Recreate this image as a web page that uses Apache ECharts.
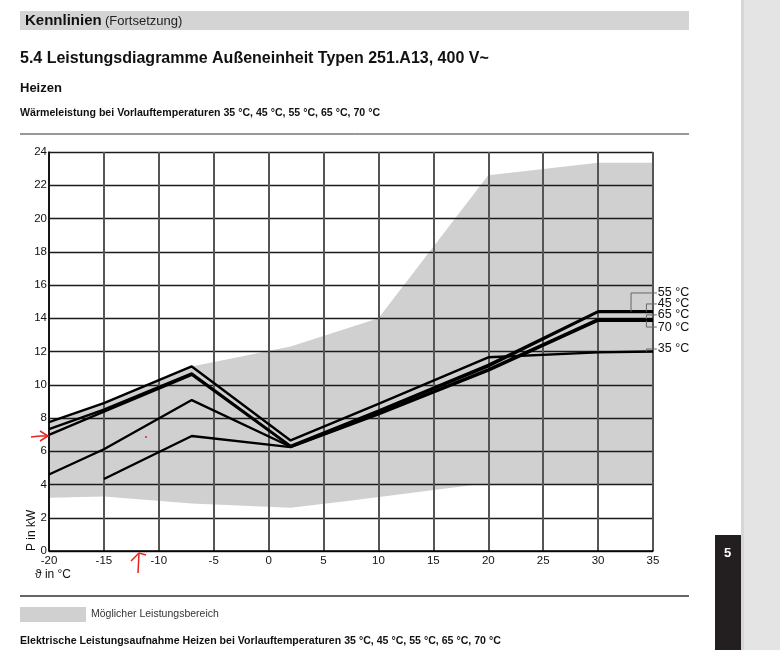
<!DOCTYPE html>
<html>
<head>
<meta charset="utf-8">
<script src="https://cdn.jsdelivr.net/npm/echarts@6/dist/echarts.min.js"></script>
<style>
  html, body { margin: 0; padding: 0; background: #fff; }
  #chart { width: 780px; height: 650px; }
</style>
</head>
<body>
<div id="chart"></div>
<script>
// Außentemperatur (x) und Wärmeleistung in kW je Vorlauftemperatur
var ambient = [-20, -15, -7, 2, 10, 20, 30, 35];
var p35 = [7.75, 8.9, 11.1, 6.65, 8.85, 11.65, 11.95, 12.0];
var p45 = [7.33, 8.5, 10.68, 6.32, 8.45, 11.2, 14.42, 14.42];
var p55 = [6.98, 8.38, 10.6, 6.28, 8.38, 11.1, 14.38, 14.38];
var p65 = [4.6, 6.12, 9.08, 6.27, 8.28, 10.92, 13.95, 13.95];
var p70 = [null, 4.33, 6.92, 6.25, 8.22, 10.85, 13.85, 13.85];
var curveNames = ['35 °C', '45 °C', '55 °C', '65 °C', '70 °C'];

// Möglicher Leistungsbereich (Umriss, im Uhrzeigersinn)
var areaX = [-20, -15, -7, 2, 10, 20, 30, 35, 35, 19, 7, 2, -7, -15, -20];
var areaY = [7.75, 8.9, 11.1, 12.3, 14.0, 22.6, 23.35, 23.35, 4.0, 4.0, 3.0, 2.6, 2.85, 3.28, 3.2];

var xTicks = [-20, -15, -10, -5, 0, 5, 10, 15, 20, 25, 30, 35];
var yTicks = [0, 2, 4, 6, 8, 10, 12, 14, 16, 18, 20, 22, 24];

var FONT = 'Liberation Sans, Arial, sans-serif';

function pairs(ys) {
    var out = [];
    for (var i = 0; i < ambient.length; i++) {
        if (ys[i] != null) out.push([ambient[i], ys[i]]);
    }
    return out;
}

var curves = [p35, p45, p55, p65, p70];
var series = [{
    name: 'Möglicher Leistungsbereich',
    type: 'custom',
    z: -1,
    silent: true,
    itemStyle: { color: '#d0d0d0' },
    data: areaX.map(function (x, i) { return [x, areaY[i]]; }),
    renderItem: function (params, api) {
        if (params.dataIndex !== 0) return null;
        var pts = areaX.map(function (x, i) { return api.coord([x, areaY[i]]); });
        return { type: 'polygon', shape: { points: pts }, style: { fill: '#d0d0d0' } };
    }
}];
curves.forEach(function (c, i) {
    series.push({
        name: curveNames[i],
        type: 'line',
        data: pairs(c),
        symbol: 'none',
        silent: true,
        lineStyle: { color: '#000', width: 2.4 },
        z: 3
    });
});

var chart = echarts.init(document.getElementById('chart'));
var option = {
    animation: false,
    backgroundColor: '#fff',
    textStyle: { fontFamily: FONT },
    grid: { left: 49, top: 152, width: 604, height: 399, show: false },
    legend: {
        data: [{ name: 'Möglicher Leistungsbereich', icon: 'rect' }],
        left: 20, top: 607, padding: 0,
        itemWidth: 66, itemHeight: 15, itemGap: 4,
        selectedMode: false,
        textStyle: { fontSize: 10.5, color: '#333', fontFamily: FONT }
    },
    xAxis: {
        type: 'value', min: -20, max: 35, interval: 5,
        axisLine: { show: true, onZero: false, lineStyle: { color: '#000', width: 1.5 } },
        axisTick: { show: false },
        axisLabel: { color: '#111', fontSize: 11.5, margin: 4,
            formatter: function (v) { return xTicks.indexOf(v) >= 0 ? String(v) : ''; } },
        splitLine: { show: true, lineStyle: { color: '#555', width: 2 } }
    },
    yAxis: {
        type: 'value', min: 0, max: 24, interval: 2,
        axisLine: { show: true, onZero: false, lineStyle: { color: '#000', width: 1.5 } },
        axisTick: { show: false },
        axisLabel: { color: '#111', fontSize: 11.5, margin: 2,
            formatter: function (v) { return yTicks.indexOf(v) >= 0 ? String(v) : ''; } },
        splitLine: { show: true, lineStyle: { color: '#1a1a1a', width: 1.4 } }
    },
    series: series,
    graphic: []
};
chart.setOption(option);

// Beschriftung der Kurven rechts mit Führungslinien
var tags = [
    { text: '55 °C', ly: 15.52, ax: 33.0, ay: 14.4 },
    { text: '45 °C', ly: 14.86, ax: 34.4, ay: 14.4 },
    { text: '65 °C', ly: 14.2, ax: 34.4, ay: 13.95 },
    { text: '70 °C', ly: 13.47, ax: 34.4, ay: 13.85 },
    { text: '35 °C', ly: 12.15, ax: 34.4, ay: 12.0 }
];
var g = [];
tags.forEach(function (t) {
    var pl = chart.convertToPixel({ gridIndex: 0 }, [35.35, t.ly]);
    var pb = chart.convertToPixel({ gridIndex: 0 }, [t.ax, t.ly]);
    var pa = chart.convertToPixel({ gridIndex: 0 }, [t.ax, t.ay]);
    g.push({ type: 'polyline', silent: true, z: 10,
        shape: { points: [[pl[0], pl[1]], [pb[0], pb[1]], [pa[0], pa[1]]] },
        style: { stroke: '#666', lineWidth: 1, fill: null } });
    g.push({ type: 'text', silent: true, z: 10, x: pl[0] + 1, y: pl[1],
        style: { text: t.text, font: '12.5px ' + FONT, fill: '#111', verticalAlign: 'middle' } });
});

// Seitenkopf und Texte
g.push(
    { type: 'rect', silent: true, shape: { x: 20, y: 11, width: 669, height: 19 }, style: { fill: '#d4d4d4' } },
    { type: 'text', silent: true, x: 25, y: 21,
        style: { text: '{b|Kennlinien} {n|(Fortsetzung)}', verticalAlign: 'middle',
            rich: { b: { font: 'bold 15px ' + FONT, fill: '#111' }, n: { font: '13px ' + FONT, fill: '#222' } } } },
    { type: 'text', silent: true, x: 20, y: 59,
        style: { text: '5.4 Leistungsdiagramme Außeneinheit Typen 251.A13, 400 V~', font: 'bold 16px ' + FONT, fill: '#111', verticalAlign: 'middle' } },
    { type: 'text', silent: true, x: 20, y: 88,
        style: { text: 'Heizen', font: 'bold 13px ' + FONT, fill: '#111', verticalAlign: 'middle' } },
    { type: 'text', silent: true, x: 20, y: 113,
        style: { text: 'Wärmeleistung bei Vorlauftemperaturen 35 °C, 45 °C, 55 °C, 65 °C, 70 °C', font: 'bold 10.6px ' + FONT, fill: '#111', verticalAlign: 'middle' } },
    { type: 'line', silent: true, shape: { x1: 20, y1: 134, x2: 689, y2: 134 }, style: { stroke: '#333', lineWidth: 1 } },
    { type: 'line', silent: true, shape: { x1: 20, y1: 596, x2: 689, y2: 596 }, style: { stroke: '#666', lineWidth: 2 } },
    { type: 'text', silent: true, x: 20, y: 641,
        style: { text: 'Elektrische Leistungsaufnahme Heizen bei Vorlauftemperaturen 35 °C, 45 °C, 55 °C, 65 °C, 70 °C', font: 'bold 10.6px ' + FONT, fill: '#111', verticalAlign: 'middle' } },
    { type: 'text', silent: true, x: 35, y: 575,
        style: { text: 'ϑ in °C', font: '12px ' + FONT, fill: '#111', verticalAlign: 'middle' } },
    { type: 'text', silent: true, x: 32, y: 551, rotation: Math.PI / 2,
        style: { text: 'P in kW', font: '12px ' + FONT, fill: '#111', verticalAlign: 'middle', align: 'left' } },
    // Randleiste rechts
    { type: 'rect', silent: true, shape: { x: 741, y: 0, width: 39, height: 650 }, style: { fill: '#e4e4e4' } },
    { type: 'rect', silent: true, shape: { x: 741, y: 0, width: 3, height: 650 }, style: { fill: '#d6d6d6' } },
    { type: 'rect', silent: true, shape: { x: 715, y: 535, width: 26, height: 115 }, style: { fill: '#231f20' } },
    { type: 'text', silent: true, x: 724, y: 553,
        style: { text: '5', font: 'bold 13px ' + FONT, fill: '#fff', verticalAlign: 'middle' } },
    // rote Handmarkierungen
    { type: 'polyline', silent: true, z: 20, shape: { points: [[31, 437], [40, 436], [48, 436]] }, style: { stroke: '#e8231f', lineWidth: 1.5, fill: null } },
    { type: 'polyline', silent: true, z: 20, shape: { points: [[40, 431], [48, 436], [40, 441]] }, style: { stroke: '#e8231f', lineWidth: 1.5, fill: null } },
    { type: 'polyline', silent: true, z: 20, shape: { points: [[138, 573], [139, 553]] }, style: { stroke: '#e8231f', lineWidth: 1.5, fill: null } },
    { type: 'polyline', silent: true, z: 20, shape: { points: [[131, 561], [139, 553], [146, 555]] }, style: { stroke: '#e8231f', lineWidth: 1.5, fill: null } },
    { type: 'circle', silent: true, z: 20, shape: { cx: 146, cy: 437, r: 1 }, style: { fill: '#e8231f' } }
);
chart.setOption({ graphic: g });
</script>
</body>
</html>
